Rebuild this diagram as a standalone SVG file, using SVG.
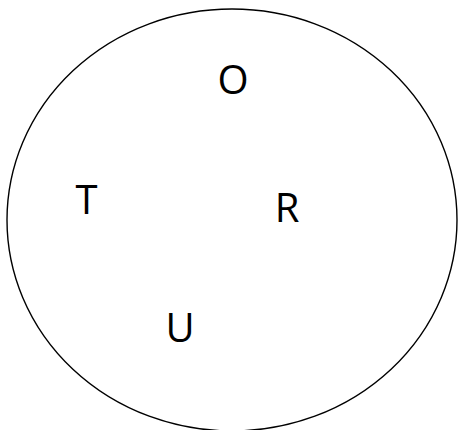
<svg xmlns="http://www.w3.org/2000/svg" width="458" height="430" viewBox="0 0 458 430">
<style>
.lbl{font-family:"Open Sans","Noto Sans",sans-serif;font-size:40px;fill:#000;text-anchor:middle}
.set{fill:#fff;stroke:#000;stroke-width:1.4}
</style>
<rect width="458" height="430" fill="#fff"/>
<g id="set"><ellipse class="set" cx="232" cy="220" rx="225" ry="211"/></g>
<g id="node-O"><text class="lbl" x="233" y="94">O</text></g>
<g id="node-T"><text class="lbl" x="86.5" y="214">T</text></g>
<g id="node-R"><text class="lbl" x="287" y="222">R</text></g>
<g id="node-U"><text class="lbl" x="180" y="342">U</text></g>
<g id="connectors"></g>
</svg>
